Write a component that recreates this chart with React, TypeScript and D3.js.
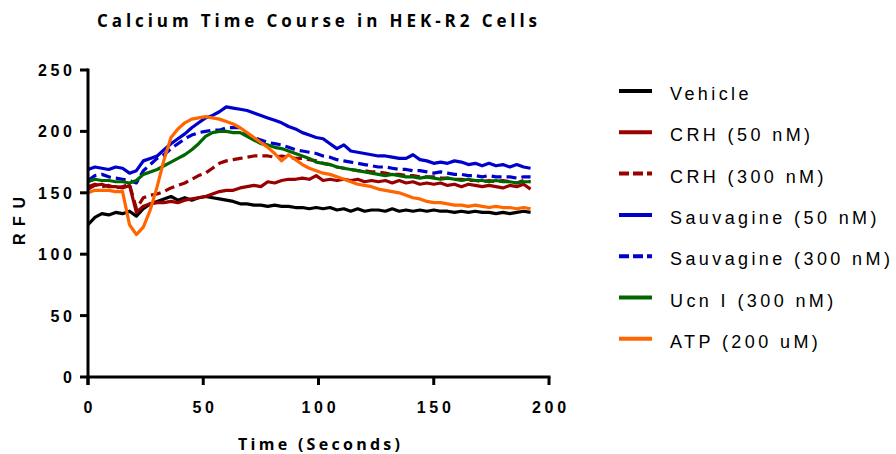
import React from "react";
import * as d3 from "d3";

const times = [0, 3, 6, 9, 12, 15, 18, 21, 24, 27, 30, 33, 36, 39, 42, 45, 48, 51, 54, 57, 60, 63, 66, 69, 72, 75, 78, 81, 84, 87, 90, 93, 96, 99, 102, 105, 108, 111, 114, 117, 120, 123, 126, 129, 132, 135, 138, 141, 144, 147, 150, 153, 156, 159, 162, 165, 168, 171, 174, 177, 180, 183, 186, 189, 192];

const vehicle = [124, 130, 133, 132, 134, 133, 135, 131, 137, 141, 143, 145, 147, 144, 146, 144, 146, 147, 146, 145, 144, 143, 141, 141, 140, 140, 139, 140, 139, 139, 138, 138, 137, 138, 137, 138, 136, 137, 135, 137, 135, 136, 136, 135, 137, 135, 136, 135, 136, 135, 136, 135, 135, 134, 135, 134, 135, 134, 134, 133, 134, 133, 134, 135, 134];
const crh50 = [153, 156, 157, 155, 155, 154, 156, 134, 139, 141, 142, 142, 143, 142, 144, 145, 146, 147, 149, 151, 152, 152, 154, 155, 156, 155, 159, 158, 160, 161, 161, 162, 161, 164, 160, 161, 160, 161, 160, 161, 159, 160, 159, 160, 158, 160, 158, 159, 157, 158, 157, 158, 156, 157, 155, 157, 156, 155, 156, 155, 154, 156, 155, 157, 153];
const crh300 = [155, 157, 155, 156, 154, 155, 157, 137, 146, 148, 149, 151, 154, 156, 158, 161, 164, 166, 170, 174, 176, 177, 178, 179, 180, 180, 180, 179, 180, 179, 178, 178, 177, 176, 174, 173, 171, 170, 169, 168, 168, 167, 167, 166, 165, 165, 164, 164, 163, 163, 163, 162, 162, 161, 161, 160, 160, 159, 160, 159, 160, 159, 158, 160, 159];
const sauv50 = [169, 171, 170, 169, 171, 170, 166, 168, 176, 178, 180, 185, 190, 194, 198, 203, 207, 211, 213, 216, 220, 219, 218, 217, 215, 213, 211, 209, 207, 204, 202, 199, 197, 195, 194, 190, 186, 189, 184, 183, 182, 181, 180, 180, 179, 178, 178, 181, 177, 176, 174, 175, 174, 176, 175, 173, 174, 172, 174, 172, 173, 171, 173, 171, 170];
const sauv300 = [160, 164, 165, 163, 162, 161, 160, 158, 168, 173, 178, 181, 186, 190, 194, 197, 199, 200, 201, 201, 203, 203, 203, 198, 195, 193, 191, 190, 189, 187, 185, 184, 183, 182, 180, 179, 177, 176, 175, 174, 173, 172, 171, 171, 170, 169, 169, 168, 168, 167, 166, 167, 166, 165, 165, 164, 164, 163, 164, 163, 163, 163, 162, 163, 163];
const ucn300 = [159, 161, 160, 160, 159, 159, 158, 160, 165, 167, 169, 172, 175, 178, 181, 185, 190, 196, 199, 200, 200, 199, 199, 196, 193, 190, 189, 187, 186, 184, 182, 180, 178, 175, 174, 173, 171, 170, 169, 168, 167, 166, 165, 164, 165, 164, 163, 163, 162, 163, 162, 161, 162, 161, 160, 161, 160, 160, 159, 160, 159, 159, 158, 159, 159];
const atp200 = [150, 152, 152, 152, 151, 151, 124, 116, 122, 136, 155, 177, 195, 202, 207, 210, 211, 212, 211, 210, 208, 206, 203, 199, 195, 191, 187, 182, 176, 181, 177, 173, 170, 168, 166, 165, 163, 161, 159, 157, 156, 155, 153, 152, 151, 150, 148, 146, 145, 143, 142, 142, 141, 140, 140, 139, 140, 139, 138, 139, 138, 138, 137, 138, 137];

const seriesNames = ["Vehicle", "CRH (50 nM)", "CRH (300 nM)", "Sauvagine (50 nM)", "Sauvagine (300 nM)", "Ucn I (300 nM)", "ATP (200 uM)"];
const seriesValues = [vehicle, crh50, crh300, sauv50, sauv300, ucn300, atp200];
const seriesColors = ["#000000", "#990000", "#990000", "#0000CC", "#0000CC", "#006600", "#FF6600"];
const seriesDashed = [false, false, true, false, true, false, false];

const xTicks = [0, 50, 100, 150, 200];
const yTicks = [0, 50, 100, 150, 200, 250];

const titleText = "Calcium Time Course in HEK-R2 Cells";
const xTitle = "Time (Seconds)";
const yTitle = "RFU";

export default function App() {
  const W = 896, H = 454;
  const x = d3.scaleLinear().domain([0, 200]).range([88, 549]);
  const y = d3.scaleLinear().domain([0, 250]).range([377, 70]);
  const line = d3.line<number>().x((_, i) => x(times[i])).y((v) => y(v));

  const tickFont = "'Liberation Sans', Arial, sans-serif";
  const titleFont = "'Open Sans', 'Liberation Sans', sans-serif";

  const legX0 = 619, legX1 = 652, legY0 = 91, legStep = 41.3;

  return (
    <svg width={W} height={H} style={{ position: "absolute", left: 0, top: 0, background: "#fff" }}>
      <rect x={0} y={0} width={W} height={H} fill="#fff" />
      <text x={317} y={27} textAnchor="middle" fontFamily={titleFont} fontWeight={700} fontSize={17}
        textLength={440} lengthAdjust="spacing">{titleText}</text>

      {/* series */}
      {seriesValues.map((vals, k) => (
        <path key={k} d={line(vals) || ""} fill="none" stroke={seriesColors[k]} strokeWidth={3.2}
          strokeDasharray={seriesDashed[k] ? "10,5" : undefined} strokeLinejoin="round" />
      ))}

      {/* y axis */}
      <line x1={x(0)} x2={x(0)} y1={y(250) - 1.5} y2={y(0) + 8} stroke="#000" strokeWidth={3} />
      {yTicks.map((t) => (
        <g key={t}>
          <line x1={x(0) - 8} x2={x(0)} y1={y(t)} y2={y(t)} stroke="#000" strokeWidth={3} />
          <text x={72 + 3.7} y={y(t) + 6} textAnchor="end" fontFamily={tickFont} fontWeight={700}
            fontSize={16} letterSpacing={3.7}>{t}</text>
        </g>
      ))}
      {/* x axis */}
      <line x1={x(0) - 1.5} x2={x(200) + 1.5} y1={y(0)} y2={y(0)} stroke="#000" strokeWidth={3} />
      {xTicks.map((t) => (
        <g key={t}>
          <line x1={x(t)} x2={x(t)} y1={y(0)} y2={y(0) + 8} stroke="#000" strokeWidth={3} />
          <text x={x(t) + 1.85} y={413} textAnchor="middle" fontFamily={tickFont} fontWeight={700}
            fontSize={16} letterSpacing={3.7}>{t}</text>
        </g>
      ))}

      <text x={319} y={450} textAnchor="middle" fontFamily={titleFont} fontWeight={700} fontSize={16}
        textLength={162} lengthAdjust="spacing">{xTitle}</text>
      <text transform="translate(25,221) rotate(-90)" textAnchor="middle" fontFamily={tickFont} fontWeight={700}
        fontSize={16} textLength={48} lengthAdjust="spacing">{yTitle}</text>

      {/* legend */}
      {seriesNames.map((name, k) => {
        const ly = legY0 + k * legStep;
        return (
          <g key={name}>
            <line x1={legX0} x2={legX1} y1={ly} y2={ly} stroke={seriesColors[k]} strokeWidth={4}
              strokeDasharray={seriesDashed[k] ? "10,4" : undefined} />
            <text x={670} y={ly + 9} fontFamily={tickFont} fontSize={18} letterSpacing={3.4} fill="#000">{name}</text>
          </g>
        );
      })}
    </svg>
  );
}
